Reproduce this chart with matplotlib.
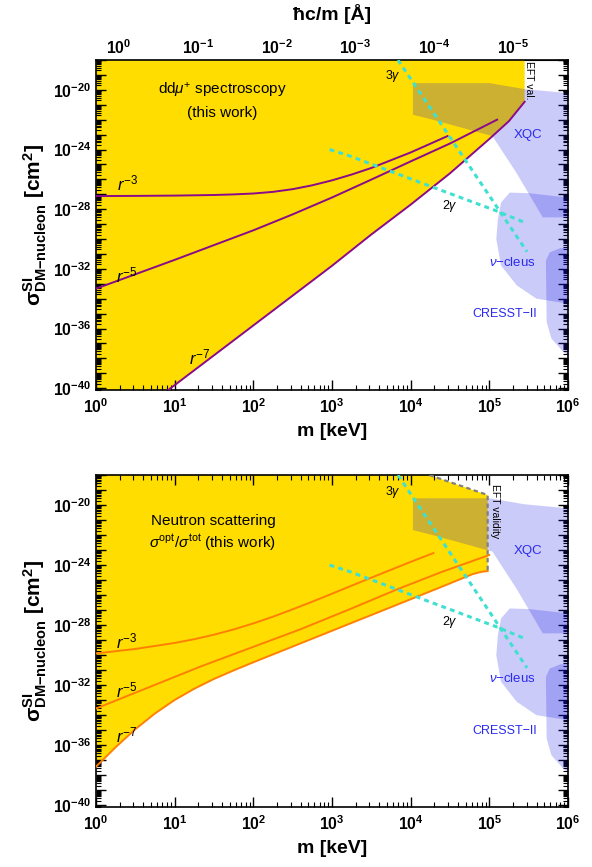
import numpy as np
import matplotlib
matplotlib.use('Agg')
import matplotlib.pyplot as plt
from matplotlib.ticker import LogLocator, FixedLocator, FuncFormatter, NullFormatter

plt.rcParams['font.family'] = 'Liberation Sans'
plt.rcParams['mathtext.fontset'] = 'custom'
plt.rcParams['mathtext.rm'] = 'Liberation Sans'
plt.rcParams['mathtext.it'] = 'Liberation Sans:italic'
plt.rcParams['mathtext.bf'] = 'Liberation Sans:bold'

# all values are log10(m / keV) and log10(sigma / cm^2)

# ddmu+ spectroscopy (top panel)
mu_r3_logm = [0, 0.5, 1, 1.5, 1.75, 2, 2.25, 2.5, 2.75, 3, 3.25, 3.5, 4, 4.47]
mu_r3_logs = [-27.12, -27.11, -27.09, -27.05, -27.01, -26.95, -26.84, -26.66, -26.4, -26.07, -25.68, -25.24,
              -24.2, -23.1]
mu_r5_logm = [0, 1, 2, 2.5, 3, 3.5, 4, 4.5, 5.1]
mu_r5_logs = [-33.33, -31.4, -29.42, -28.35, -27.22, -26.02, -24.8, -23.6, -22.0]
mu_r7_logm = [0.85, 2, 3, 3.5, 4, 4.5, 5, 5.25, 5.45]
mu_r7_logs = [-40.4, -35.8, -31.8, -29.7, -27.7, -25.6, -23.3, -22.1, -20.8]
mu_eft_logm = 5.45

# neutron scattering (bottom panel)
n_r3_logm = [0, 0.5, 1.0, 1.25, 1.5, 1.75, 2.0, 2.25, 2.5, 2.75, 3.0, 3.5, 4.0, 4.29]
n_r3_logs = [-29.89, -29.59, -29.19, -28.94, -28.64, -28.29, -27.89, -27.44, -26.95, -26.44, -25.91, -24.84,
             -23.79, -23.2]
n_r5_logm = [0, 1.32, 2.0, 2.59, 3.2, 3.86, 4.4, 5.0]
n_r5_logs = [-33.56, -30.78, -29.45, -28.3, -27.0, -25.55, -24.45, -23.33]
n_r7_logm = [0, 0.25, 0.5, 0.75, 1.0, 1.25, 1.5, 1.75, 2.0, 2.5, 3.0, 3.5, 4.0, 4.37, 4.79, 4.9, 4.98]
n_r7_logs = [-37.44, -36.14, -34.94, -33.89, -32.99, -32.24, -31.59, -31.02, -30.48, -29.43, -28.38, -27.33,
             -26.28, -25.5, -24.6, -24.45, -24.4]
n_eft_logm = [3.96, 4.98, 4.98]
n_eft_logs = [-17.5, -19.33, -24.4]

# other limits, same in both panels
xqc_logm = [4.03, 5.0, 5.45, 6.0, 6.0, 5.68, 5.35, 5.04, 4.28, 4.03]
xqc_logs = [-19.55, -19.55, -19.95, -20.22, -28.55, -28.55, -25.6, -23.1, -22.0, -21.67]
nucleus_logm = [5.26, 5.15, 5.11, 5.09, 5.15, 5.35, 5.60, 6.0, 6.0, 5.51]
nucleus_logs = [-26.89, -27.56, -28.67, -30.0, -31.78, -33.11, -34.0, -34.33, -27.22, -26.93]
cresst_logm = [5.77, 5.90, 6.0, 6.0, 5.94, 5.79, 5.73, 5.72]
cresst_logs = [-30.89, -30.62, -30.56, -37.78, -37.56, -36.67, -35.56, -31.44]
g3_logm = [3.84, 5.48]
g3_logs = [-18.0, -30.85]
g2_logm = [2.97, 3.23, 4.24, 5.09, 5.45]
g2_logs = [-24.0, -24.44, -26.44, -28.11, -28.89]

# top axis hbar c / m in Angstrom
ang_ticks = [1, 1e-1, 1e-2, 1e-3, 1e-4, 1e-5]
HBARC = 1.97327  # keV * Angstrom

yellow = '#FFDD00'
lav = (0.08, 0.08, 0.9)
blue = '#2a2aee'
cyan = '#40E0D0'


def p(a):
    return 10.0 ** np.array(a, dtype=float)


def bold_pow(v, pos):
    e = int(round(np.log10(v)))
    return r'$\mathbf{10^{%d}}$' % e


def bold_pow_y(v, pos):
    e = int(round(np.log10(v)))
    if e % 4 != 0:
        return ''
    return r'$\mathbf{10^{%d}}$' % e


def style_axes(ax):
    ax.set_xscale('log')
    ax.set_yscale('log')
    ax.set_xlim(1, 1e6)
    ax.set_ylim(10 ** -40.12, 1e-18)
    ax.xaxis.set_major_locator(LogLocator(base=10, numticks=20))
    ax.xaxis.set_minor_locator(LogLocator(base=10, subs=np.arange(2, 10), numticks=20))
    ax.yaxis.set_major_locator(LogLocator(base=10, numticks=40))
    ax.yaxis.set_minor_locator(LogLocator(base=10, subs=np.arange(2, 10), numticks=40))
    ax.xaxis.set_major_formatter(FuncFormatter(bold_pow))
    ax.xaxis.set_minor_formatter(NullFormatter())
    ax.yaxis.set_major_formatter(FuncFormatter(bold_pow_y))
    ax.yaxis.set_minor_formatter(NullFormatter())
    ax.tick_params(which='both', direction='in', right=True, labelsize=11.3)
    ax.tick_params(which='major', length=7, width=1)
    ax.tick_params(which='minor', length=3.5, width=0.8)
    ax.tick_params(axis='x', pad=5)
    for s in ax.spines.values():
        s.set_linewidth(1.2)
    ax.set_xlabel('m [keV]', fontsize=14, fontweight='bold', labelpad=5)
    ax.set_ylabel(r'$\mathbf{σ^{SI}_{DM{-}nucleon}}$ [cm$^{\mathbf{2}}$]', fontsize=15, fontweight='bold',
                  labelpad=3)


def common_limits(ax):
    ax.fill(p(xqc_logm), p(xqc_logs), color=lav, alpha=0.22, lw=0, zorder=2)
    ax.fill(p(nucleus_logm), p(nucleus_logs), color=lav, alpha=0.22, lw=0, zorder=2)
    ax.fill(p(cresst_logm), p(cresst_logs), color=lav, alpha=0.22, lw=0, zorder=2)
    ax.plot(p(g3_logm), p(g3_logs), color=cyan, lw=2.2, ls=(0, (1.6, 1.4)), zorder=4)
    ax.plot(p(g2_logm), p(g2_logs), color=cyan, lw=2.2, ls=(0, (1.6, 1.4)), zorder=4)
    ax.text(10 ** 3.77, 10 ** -19.1, r'3$\mathit{γ}$', fontsize=9, ha='center', va='center', zorder=5)
    ax.text(10 ** 4.5, 10 ** -27.8, r'2$\mathit{γ}$', fontsize=9, ha='center', va='center', zorder=5)
    ax.text(10 ** 5.49, 10 ** -23.05, 'XQC', fontsize=9.5, color=blue, ha='center', va='center', zorder=5)
    ax.text(10 ** 5.30, 10 ** -31.55, r'$\mathit{ν}$−cleus', fontsize=9.5, color=blue, ha='center',
            va='center', zorder=5)
    ax.text(10 ** 5.2, 10 ** -35.05, 'CRESST−II', fontsize=9, color=blue, ha='center', va='center', zorder=5)


fig = plt.figure(figsize=(5.92, 8.67), dpi=100)

# top panel
ax1 = fig.add_axes([0.162, 0.5502, 0.7973, 0.3806])
style_axes(ax1)
ax1.tick_params(which='both', top=False)
ax1.fill(p([0] + mu_r7_logm + [mu_eft_logm, 0]), p([-41] + mu_r7_logs + [-17, -17]),
         color=yellow, lw=0, zorder=1)
common_limits(ax1)
purple = '#8a0a8a'
ax1.plot(p(mu_r3_logm), p(mu_r3_logs), color=purple, lw=1.4, zorder=3)
ax1.plot(p(mu_r5_logm), p(mu_r5_logs), color=purple, lw=1.4, zorder=3)
ax1.plot(p(mu_r7_logm), p(mu_r7_logs), color=purple, lw=1.4, zorder=3)
ax1.text(0.066, 0.627, r'$r^{-3}$', transform=ax1.transAxes, fontsize=12, ha='center', va='center')
ax1.text(0.066, 0.348, r'$r^{-5}$', transform=ax1.transAxes, fontsize=12, ha='center', va='center')
ax1.text(0.22, 0.10, r'$r^{-7}$', transform=ax1.transAxes, fontsize=12, ha='center', va='center')
ax1.text(0.267, 0.909, r'dd$\mathit{μ}^{+}$ spectroscopy', transform=ax1.transAxes, fontsize=11,
         ha='center', va='center')
ax1.text(0.267, 0.839, '(this work)', transform=ax1.transAxes, fontsize=11, ha='center', va='center')
ax1.text(10 ** 5.51, 10 ** -18.1, 'EFT val.', rotation=270, fontsize=7.5, ha='center', va='top', zorder=5)

sec = ax1.secondary_xaxis('top', functions=(lambda m: HBARC / m, lambda l: HBARC / l))
sec.xaxis.set_major_locator(FixedLocator(ang_ticks))
sec.xaxis.set_minor_locator(FixedLocator([s * t for t in ang_ticks[1:] for s in range(2, 10)]))
sec.xaxis.set_major_formatter(FuncFormatter(bold_pow))
sec.xaxis.set_minor_formatter(NullFormatter())
sec.tick_params(which='both', direction='in', labelsize=11.3, pad=2)
sec.tick_params(which='major', length=7, width=1)
sec.tick_params(which='minor', length=3.5, width=0.8)
sec.set_xlabel('ħc/m [Å]', fontsize=14, fontweight='bold', labelpad=13)

# bottom panel
ax2 = fig.add_axes([0.162, 0.0692, 0.7973, 0.3829])
style_axes(ax2)
ax2.tick_params(which='both', top=True)
ax2.fill(p(n_r7_logm + [4.98, 3.96, 0]), p(n_r7_logs + [-19.33, -17.5, -17.5]),
         color=yellow, lw=0, zorder=1)
common_limits(ax2)
orange = '#FF8000'
ax2.plot(p(n_r3_logm), p(n_r3_logs), color=orange, lw=1.4, zorder=3)
ax2.plot(p(n_r5_logm), p(n_r5_logs), color=orange, lw=1.4, zorder=3)
ax2.plot(p(n_r7_logm), p(n_r7_logs), color=orange, lw=1.4, zorder=3)
ax2.plot(p(n_eft_logm), p(n_eft_logs), color='#808080', lw=1.6, ls=(0, (2, 1.5)), zorder=4)
ax2.text(0.065, 0.498, r'$r^{-3}$', transform=ax2.transAxes, fontsize=12, ha='center', va='center')
ax2.text(0.065, 0.352, r'$r^{-5}$', transform=ax2.transAxes, fontsize=12, ha='center', va='center')
ax2.text(0.065, 0.217, r'$r^{-7}$', transform=ax2.transAxes, fontsize=12, ha='center', va='center')
ax2.text(0.248, 0.861, 'Neutron scattering', transform=ax2.transAxes, fontsize=11, ha='center', va='center')
ax2.text(0.248, 0.795, r'$\mathit{σ}^{\mathrm{opt}}/\mathit{σ}^{\mathrm{tot}}$ (this work)',
         transform=ax2.transAxes, fontsize=11, ha='center', va='center')
ax2.text(10 ** 5.07, 10 ** -18.6, 'EFT validity', rotation=270, fontsize=7.5, ha='center', va='top', zorder=5)

fig.savefig('out.png', dpi=100)
